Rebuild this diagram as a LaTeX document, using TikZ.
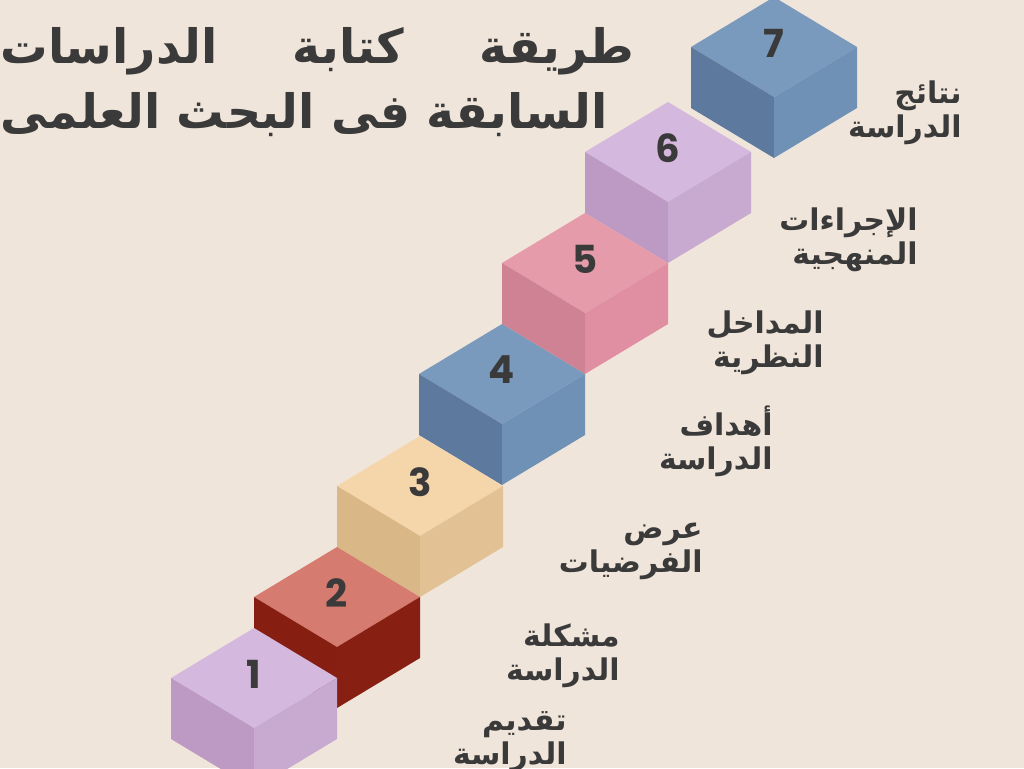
\documentclass[tikz,border=0pt]{standalone}
\usepackage{fontspec}
\usepackage{tikz}
\TeXXeTstate=1
\newfontfamily\arabicfont[Script=Arabic]{DejaVu Sans}
\newfontfamily\numfont{Poppins}
\definecolor{bgpaper}{HTML}{F0E5DA}
\definecolor{inkgray}{HTML}{3A3A3A}
\definecolor{lilactop}{HTML}{D5B8DE}
\definecolor{lilacleft}{HTML}{BD9AC4}
\definecolor{lilacright}{HTML}{C8A9D0}
\definecolor{redtop}{HTML}{D67B70}
\definecolor{redleft}{HTML}{861F12}
\definecolor{redright}{HTML}{871F13}
\definecolor{sandtop}{HTML}{F5D5AA}
\definecolor{sandleft}{HTML}{D9B787}
\definecolor{sandright}{HTML}{E2C295}
\definecolor{bluetop}{HTML}{7A9ABD}
\definecolor{blueleft}{HTML}{5D7A9E}
\definecolor{blueright}{HTML}{7091B6}
\definecolor{pinktop}{HTML}{E59BAA}
\definecolor{pinkleft}{HTML}{CF8293}
\definecolor{pinkright}{HTML}{E08FA2}
\tikzset{
  cubenum/.style  = {text=inkgray, font=\numfont\bfseries\fontsize{22}{22}\selectfont,
                     inner sep=0pt},
  steplabel/.style = {text=inkgray, anchor=east, align=right, inner sep=0pt,
                     font=\arabicfont\bfseries\fontsize{17}{19.5}\selectfont},
  titletext/.style = {text=inkgray, anchor=north west, align=left, inner sep=0pt,
                     font=\arabicfont\bfseries\fontsize{27}{37}\selectfont},
}
% #1,#2 centre of the top face, #3 colour stem, #4 number
\newcommand{\stepcube}[4]{%
  \begin{scope}[shift={(#1,#2)}]
    \fill[#3top]   (-83,0) -- (0,-50) -- (83,0) -- (0,50) -- cycle;
    \fill[#3left]  (-83,0) -- (0,50) -- (0,111) -- (-83,61) -- cycle;
    \fill[#3right] (0,50) -- (83,0) -- (83,61) -- (0,111) -- cycle;
    \node[cubenum] (n#4) at (0,-4) {#4};
  \end{scope}}

\begin{document}
\begin{tikzpicture}[x=0.02cm,y=-0.02cm]
\useasboundingbox (0,0) rectangle (1024,768);
\clip (0,0) rectangle (1024,768);
\fill[bgpaper] (0,0) rectangle (1024,768);
% cubes, from the top step down so the lower ones lie in front
\stepcube{774}{47}{blue}{7}
\stepcube{668}{152}{lilac}{6}
\stepcube{585}{263}{pink}{5}
\stepcube{502}{374}{blue}{4}
\stepcube{420}{486}{sand}{3}
\stepcube{337}{597}{red}{2}
\stepcube{254}{678}{lilac}{1}
% labels beside the steps
\node[steplabel] (l7) at (962,113) {\beginR نتائج\endR\\\beginR الدراسة\endR};
\node[steplabel] (l6) at (918,240) {\beginR الإجراءات\endR\\\beginR المنهجية\endR};
\node[steplabel] (l5) at (824,343) {\beginR المداخل\endR\\\beginR النظرية\endR};
\node[steplabel] (l4) at (773,441) {\beginR أهداف\endR\\\beginR الدراسة\endR};
\node[steplabel] (l3) at (703,551) {\beginR عرض\endR\\\beginR الفرضيات\endR};
\node[steplabel] (l2) at (620,656) {\beginR مشكلة\endR\\\beginR الدراسة\endR};
\node[steplabel] (l1) at (567,742) {\beginR تقديم\endR\\\beginR الدراسة\endR};
% title
\node[titletext] (title) at (0,27)
  {\hbox to 361pt{\beginR طريقة\hfill كتابة\hfill الدراسات\endR}\\
   \beginR السابقة فى البحث العلمى\endR};
\end{tikzpicture}
\end{document}
